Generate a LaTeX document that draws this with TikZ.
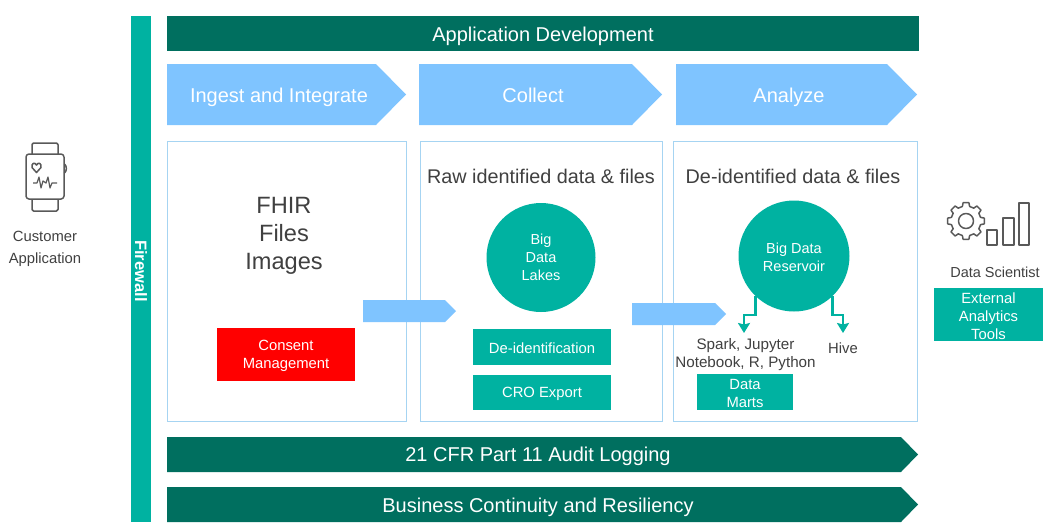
\documentclass[tikz,border=0pt]{standalone}
\usepackage{fontspec}
\setmainfont{Liberation Sans}
\usetikzlibrary{arrows.meta}

\definecolor{tealbar}{HTML}{00B2A1}
\definecolor{darkbar}{HTML}{006F5F}
\definecolor{skyarrow}{HTML}{7FC4FF}
\definecolor{panelline}{HTML}{A6D4F2}
\definecolor{icongray}{HTML}{595959}
\definecolor{labelgray}{HTML}{404040}

\newcommand{\boxstrut}{\rule{0pt}{13.5pt}}

\tikzset{
    barlabel/.style={text=white, inner sep=0pt, text height=14pt, text depth=4pt,
        font=\fontsize{20}{24}\selectfont},
    panel/.style={draw=panelline, line width=0.9pt, fill=white, inner sep=0pt},
    heading/.style={text=labelgray, inner sep=0pt, align=center},
    tealbox/.style={fill=tealbar, text=white, inner sep=0pt, align=center,
        font=\fontsize{14.8}{18}\selectfont},
    caption/.style={text=labelgray, inner sep=0pt, align=center,
        font=\fontsize{14.8}{21.5}\selectfont},
    link/.style={draw=tealbar, line width=2.8pt, -{Stealth[length=10pt,width=12pt,inset=1.5pt]}},
    icon/.style={draw=icongray, line width=1.5pt, line join=round},
}

\begin{document}
\begin{tikzpicture}[x=1pt,y=-1pt]
    \useasboundingbox (0,0) rectangle (1052,531);

    % firewall and top bar
    \node[fill=tealbar, minimum width=20pt, minimum height=506pt, inner sep=0pt] (firewallbar) at (141,269) {};
    \node[text=white, rotate=-90, inner sep=0pt, font=\fontsize{16.5}{18}\selectfont\bfseries] (firewall) at (141,271) {Firewall};
    \node[fill=darkbar, minimum width=752pt, minimum height=35pt, inner sep=0pt] (appbar) at (543,33.5) {};
    \node[barlabel] (appdev) at (543,36) {Application Development};

    % stage arrows
    \fill[skyarrow] (167,64) -- (376,64) -- (406,94.5) -- (376,125) -- (167,125) -- cycle;
    \fill[skyarrow] (419,64) -- (632,64) -- (662,94.5) -- (632,125) -- (419,125) -- cycle;
    \fill[skyarrow] (676,64) -- (887,64) -- (917,94.5) -- (887,125) -- (676,125) -- cycle;
    \node[barlabel] (ingest) at (279,97) {Ingest and Integrate};
    \node[barlabel] (collect) at (533,97) {Collect};
    \node[barlabel] (analyze) at (789,97) {Analyze};

    % panels
    \node[panel, minimum width=239.5pt, minimum height=280pt] (fhirpanel) at (287,281) {};
    \node[panel, minimum width=242.5pt, minimum height=280pt] (rawpanel) at (541.3,281) {};
    \node[panel, minimum width=244pt, minimum height=280pt] (deidpanel) at (795,281) {};

    \node[heading, font=\fontsize{23.6}{28}\selectfont] (fhir) at (284,236) {FHIR\\Files\\Images};
    \node[heading, font=\fontsize{19.8}{24}\selectfont] (rawtitle) at (541,176.5) {Raw identified data \& files};
    \node[heading, font=\fontsize{19.8}{24}\selectfont] (deidtitle) at (793,176.5) {De-identified data \& files};

    % boxes
    \node[tealbox, fill=red, minimum width=138pt, minimum height=53pt] (consent) at (286,354.5) {\boxstrut Consent\\Management};
    \node[tealbox, minimum width=138pt, minimum height=36pt] (deident) at (542,347) {\boxstrut De-identification};
    \node[tealbox, minimum width=138pt, minimum height=35pt] (cro) at (542,392.5) {\boxstrut CRO Export};
    \node[tealbox, minimum width=96pt, minimum height=36pt] (marts) at (745,392) {\boxstrut Data\\Marts};
    \node[tealbox, minimum width=109pt, minimum height=53pt] (external) at (988.5,314.5) {\boxstrut External\\Analytics\\Tools};

    % lakes
    \node[circle, fill=tealbar, text=white, minimum size=109pt, inner sep=0pt, align=center,
        font=\fontsize{14.5}{18}\selectfont] (lakes) at (541,257.5) {Big\\Data\\Lakes};
    \node[circle, fill=tealbar, text=white, minimum size=111pt, inner sep=0pt, align=center,
        font=\fontsize{14.5}{18}\selectfont] (reservoir) at (794,256) {\boxstrut Big Data\\Reservoir};

    % flow arrows
    \fill[skyarrow] (363,300) -- (445,300) -- (456,311) -- (445,322) -- (363,322) -- cycle;
    \fill[skyarrow] (632,303) -- (715,303) -- (726,314) -- (715,325) -- (632,325) -- cycle;

    % tools
    \node[caption, font=\fontsize{15.2}{18}\selectfont] (spark) at (745.5,354.5) {Spark, Jupyter\\Notebook, R, Python};
    \node[caption] (hive) at (843,348) {Hive};
    \coordinate (sparktip) at (744,333);
    \coordinate (hivetip) at (843,333);
    \draw[link] (reservoir.226) |- (749,315) -| (sparktip);
    \draw[link] (reservoir.314) |- (838,315) -| (hivetip);

    % watch
    \draw[icon, rounded corners=3pt] (26,154) rectangle (64,199);
    \draw[icon, rounded corners=1.5pt] (32,154) -- (32,143) -- (58,143) -- (58,154);
    \draw[icon, rounded corners=1.5pt] (32,199) -- (32,211) -- (58,211) -- (58,199);
    \draw[icon] (64.5,164) .. controls (67,166) and (67,171) .. (64.5,173);
    \draw[icon] (36.5,172.5) -- (32,167.5) .. controls (31,163) and (35,162) .. (36.5,165)
        .. controls (38,162) and (42,163) .. (41,167.5) -- cycle;
    \draw[icon, line width=1.2pt] (33,183) -- (37,183) -- (39,177) -- (41,188) -- (43,181)
        -- (46,183) -- (48,177) -- (50,188) -- (52,183) -- (57,183);
    \node[caption] (customer) at (45,249) {Customer\\Application};

    % gear and bars
    \begin{scope}[shift={(966,221)}]
        \draw[icon] (-14:15) \foreach \a in {0,45,...,315} {
            -- (\a-14:15) -- (\a-9:18.5) -- (\a+9:18.5) -- (\a+14:15)
        } -- cycle;
        \draw[icon] (0,0) circle (7.5);
    \end{scope}
    \draw[icon] (987,230) rectangle (997,245);
    \draw[icon] (1003,218) rectangle (1014,245);
    \draw[icon] (1019,203) rectangle (1029,245);
    \node[caption, font=\fontsize{14.5}{18}\selectfont] (scientist) at (995,272) {Data Scientist};

    % bottom bars
    \fill[darkbar] (167,437) -- (901,437) -- (918,454.5) -- (901,472) -- (167,472) -- cycle;
    \fill[darkbar] (167,487) -- (901,487) -- (918,504.5) -- (901,522) -- (167,522) -- cycle;
    \node[barlabel] (audit) at (538,456) {21 CFR Part 11 Audit Logging};
    \node[barlabel] (continuity) at (538,507) {Business Continuity and Resiliency};
\end{tikzpicture}
\end{document}
